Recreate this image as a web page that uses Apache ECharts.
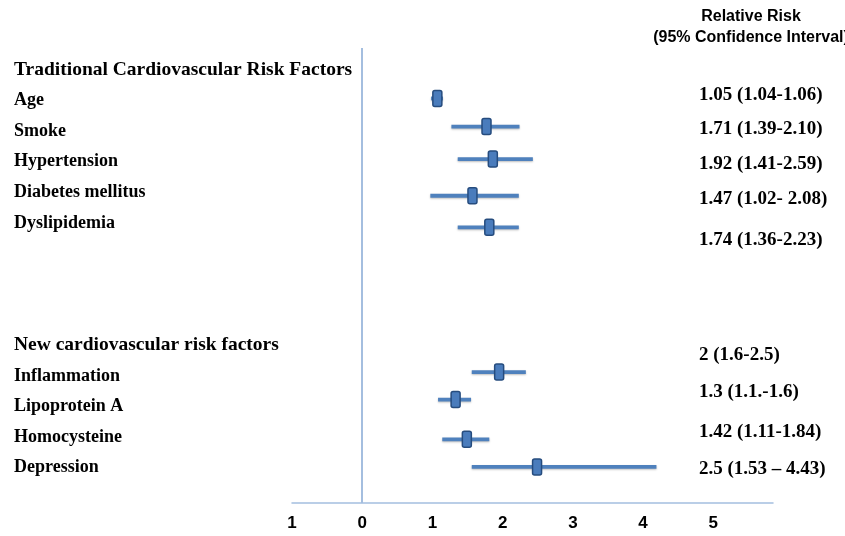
<!DOCTYPE html>
<html>
<head>
<meta charset="utf-8">
<script src="https://cdn.jsdelivr.net/npm/echarts@6/dist/echarts.min.js"></script>
<style>html,body{margin:0;padding:0;background:#fff;}#chart{width:845px;height:536px;}</style>
</head>
<body>
<div id="chart"></div>
<script>
// Left-hand row labels and their row positions
var rowLabels = ['Traditional Cardiovascular Risk Factors','Age','Smoke','Hypertension','Diabetes mellitus','Dyslipidemia','New cardiovascular risk factors','Inflammation','Lipoprotein A','Homocysteine','Depression'];
var rowLabelPos = [0,1,2,3,4,5,9,10,11,12,13];
var headerRows = [0,9];

// Risk factors as drawn
var factors = ['Age','Smoke','Hypertension','Diabetes mellitus','Dyslipidemia','Inflammation','Lipoprotein A','Homocysteine','Depression'];
var rrPoint = [1.07,1.77,1.86,1.57,1.81,1.95,1.33,1.49,2.49];
var ciLow   = [0.98,1.27,1.36,0.97,1.36,1.56,1.08,1.14,1.56];
var ciHigh  = [1.15,2.24,2.43,2.23,2.23,2.33,1.55,1.81,4.19];
var markRow = [0.93,1.85,2.91,4.11,5.14,9.87,10.77,12.07,12.97];

// Right-hand relative risk texts and their row positions
var rrText = ['1.05 (1.04-1.06)','1.71 (1.39-2.10)','1.92 (1.41-2.59)','1.47 (1.02- 2.08)','1.74 (1.36-2.23)','2 (1.6-2.5)','1.3 (1.1.-1.6)','1.42 (1.11-1.84)','2.5 (1.53 \u2013 4.43)'];
var rrTextPos = [0.82,1.93,3.07,4.22,5.56,9.31,10.52,11.83,13.04];

// X axis tick labels (for ticks -1..5)
var xTickLabels = ['1','0','1','2','3','4','5'];

var chart = echarts.init(document.getElementById('chart'), null, {renderer:'canvas'});

var data = factors.map(function(f,i){ return [rrPoint[i], ciLow[i], ciHigh[i], markRow[i]]; });

var option = {
  animation: false,
  backgroundColor: '#ffffff',
  title: {
    text: 'Relative Risk\n(95% Confidence Interval)',
    left: 746, top: 1, textAlign: 'center',
    textStyle: {fontFamily: 'Liberation Sans', fontWeight: 'bold', fontSize: 16, lineHeight: 21, color: '#000'}
  },
  grid: {left: 292, right: 72, top: 48, bottom: 33},
  xAxis: {
    type: 'value', min: -1, max: 5.85, interval: 1,
    axisLine: {show: true, onZero: false, lineStyle: {color: '#A4BEDF', width: 1.5}},
    axisTick: {show: false},
    splitLine: {show: false},
    axisLabel: {
      margin: 12, color: '#000', fontFamily: 'Liberation Sans', fontWeight: 'bold', fontSize: 17,
      formatter: function(v){ var k = Math.round(v) + 1; return xTickLabels[k] !== undefined ? xTickLabels[k] : ''; }
    }
  },
  yAxis: [{
    type: 'value', inverse: true, min: -0.719, max: 14.15, position: 'left',
    axisLine: {show: false}, axisTick: {show: false}, splitLine: {show: false},
    axisLabel: {
      customValues: rowLabelPos, align: 'left', margin: 278,
      color: '#000', fontFamily: 'Liberation Serif', fontWeight: 'bold', fontSize: 18,
      rich: {h: {fontFamily: 'Liberation Serif', fontWeight: 'bold', fontSize: 19.5, color: '#000'}},
      formatter: function(v){
        var i = rowLabelPos.indexOf(v);
        if (i < 0) return '';
        return headerRows.indexOf(v) >= 0 ? '{h|' + rowLabels[i] + '}' : rowLabels[i];
      }
    }
  },{
    type: 'value', inverse: true, min: -0.719, max: 14.15, position: 'right',
    axisLine: {show: false, onZero: false}, axisTick: {show: false}, splitLine: {show: false},
    axisLabel: {
      customValues: rrTextPos, align: 'left', margin: -74,
      color: '#000', fontFamily: 'Liberation Serif', fontWeight: 'bold', fontSize: 19,
      formatter: function(v){ var i = rrTextPos.indexOf(v); return i >= 0 ? rrText[i] : ''; }
    }
  }],
  series: [{
    type: 'custom',
    name: 'Relative Risk',
    xAxisIndex: 0, yAxisIndex: 0,
    data: data,
    encode: {x: [0,1,2], y: 3},
    renderItem: function(params, api){
      var y = api.value(3);
      var p = api.coord([api.value(0), y]);
      var lo = api.coord([api.value(1), y]);
      var hi = api.coord([api.value(2), y]);
      return {
        type: 'group',
        children: [{
          type: 'line',
          shape: {x1: lo[0], y1: lo[1], x2: hi[0], y2: hi[1]},
          style: {stroke: '#4F81BD', lineWidth: 3.8, shadowColor: 'rgba(0,0,0,0.25)', shadowBlur: 2, shadowOffsetY: 1}
        },{
          type: 'rect',
          shape: {x: p[0] - 4.5, y: p[1] - 8, width: 9, height: 16, r: 2},
          style: {fill: '#4A7CBC', stroke: '#264C7E', lineWidth: 1.5}
        }]
      };
    },
    markLine: {
      silent: true, symbol: 'none', label: {show: false},
      lineStyle: {color: '#A4BEDF', width: 2, type: 'solid'},
      data: [{xAxis: 0}]
    }
  }]
};
chart.setOption(option);
</script>
</body>
</html>
